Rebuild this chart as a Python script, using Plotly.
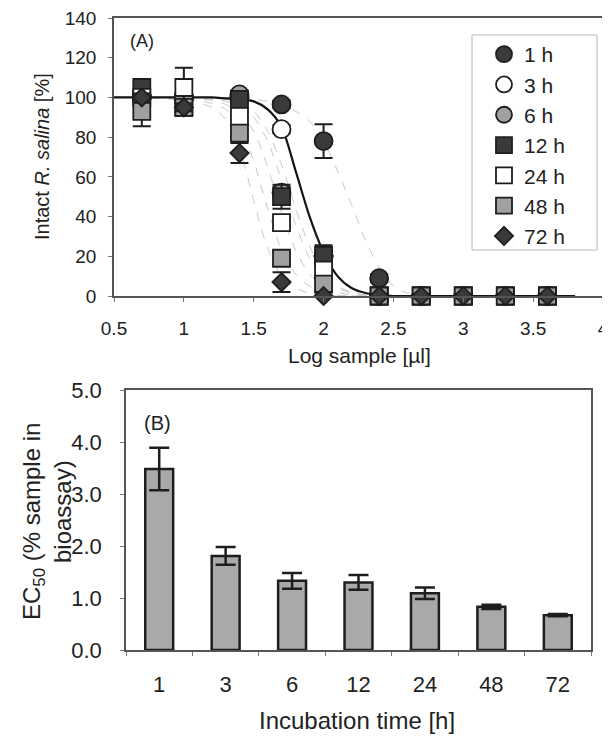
import plotly.graph_objects as go

# ---------------- Panel A data ----------------
log_sample = [0.699, 1.0, 1.398, 1.699, 2.0, 2.398, 2.699, 3.0, 3.301, 3.602]
series_names = ["1 h", "3 h", "6 h", "12 h", "24 h", "48 h", "72 h"]

y_1h = [100, 100, 100, 96.5, 78, 9, 0, 0, 0, 0]
y_3h = [100, 100, 100, 84, 20, 0, 0, 0, 0, 0]
y_6h = [100, 100, 101.5, 52, 20, 0, 0, 0, 0, 0]
y_12h = [105, 95, 99, 50, 20.5, 0, 0, 0, 0, 0]
y_24h = [100, 105, 90.5, 37, 13, 0, 0, 0, 0, 0]
y_48h = [93, 95, 82, 19, 6, 0, 0, 0, 0, 0]
y_72h = [100, 95, 72, 7, 0, 0, 0, 0, 0, 0]

e_1h = [2, 2, 2, 2, 8.5, 2, 1, 1, 1, 1]
e_3h = [2, 2, 2, 2, 2, 1, 1, 1, 1, 1]
e_6h = [2, 2, 2, 3, 3, 1, 1, 1, 1, 1]
e_12h = [3, 2, 2, 6, 5, 1, 1, 1, 1, 1]
e_24h = [3, 10, 2, 3, 3, 1, 1, 1, 1, 1]
e_48h = [7.5, 2, 2, 3, 3, 1, 1, 1, 1, 1]
e_72h = [2, 2, 5, 5, 2, 1, 1, 1, 1, 1]

# fitted curves
fit_x = [0.5, 1.0, 1.2, 1.3, 1.4, 1.5, 1.6, 1.7, 1.8, 1.9, 2.0, 2.1, 2.2, 2.3, 2.4, 2.5, 2.6, 2.8, 3.8]
fit_1h = [100, 100, 100, 100, 99.5, 99, 98, 96, 93, 88, 78, 63, 46, 28, 14, 5, 1.5, 0, 0]
fit_3h = [100, 100, 100, 99.5, 99, 98, 94, 85, 63, 40, 22, 10, 4, 1.5, 0.5, 0, 0, 0, 0]
fit_6h = [100, 100, 99.5, 99, 97, 93, 83, 66, 44, 25, 12, 5, 2, 0.5, 0, 0, 0, 0, 0]
fit_12h = [100, 100, 99, 98, 95.5, 90, 78, 58, 36, 19, 9, 4, 1.5, 0.5, 0, 0, 0, 0, 0]
fit_24h = [100, 99.5, 98.5, 96.5, 92, 83, 65, 42, 23, 11, 5, 2, 0.5, 0, 0, 0, 0, 0, 0]
fit_48h = [100, 99, 97, 94, 86, 68, 44, 23, 11, 5, 2, 0.5, 0, 0, 0, 0, 0, 0, 0]
fit_72h = [100, 98.5, 95, 89, 74, 48, 24, 10, 4, 1.5, 0.5, 0, 0, 0, 0, 0, 0, 0, 0]

# ---------------- Panel B data ----------------
time_labels = ["1", "3", "6", "12", "24", "48", "72"]
ec50 = [3.48, 1.81, 1.33, 1.30, 1.09, 0.83, 0.67]
ec50_err = [0.41, 0.17, 0.15, 0.14, 0.11, 0.04, 0.02]

FONT = "Liberation Sans, Arial, sans-serif"
OFF = 8  # default page body margin
W, H = 610 - OFF, 742 - OFF
DARK = "#3a3a3a"
GRAY = "#a0a0a0"
EDGE = "#1e1e1e"


def px_x(p):
    return (p - OFF) / W


def px_y(p):
    return 1 - (p - OFF) / H


fig = go.Figure()

# gray fitted curves
for fy in [fit_1h, fit_6h, fit_12h, fit_24h, fit_48h, fit_72h]:
    fig.add_trace(go.Scatter(
        x=fit_x, y=fy, mode="lines",
        line=dict(color="#c8c8c8", width=1, dash="dash", shape="spline", smoothing=0.8),
        showlegend=False, hoverinfo="skip", xaxis="x", yaxis="y", cliponaxis=False))
# black fitted curve
fig.add_trace(go.Scatter(
    x=fit_x, y=fit_3h, mode="lines", line=dict(color="#151515", width=2.2, shape="spline", smoothing=0.8),
    showlegend=False, hoverinfo="skip", xaxis="x", yaxis="y", cliponaxis=False))

styles = [
    ("circle", DARK, 18),
    ("circle", "white", 18),
    ("circle", GRAY, 18),
    ("square", DARK, 17),
    ("square", "white", 17),
    ("square", GRAY, 17),
    ("diamond", DARK, 14),
]
ys = [y_1h, y_3h, y_6h, y_12h, y_24h, y_48h, y_72h]
es = [e_1h, e_3h, e_6h, e_12h, e_24h, e_48h, e_72h]

for name, yv, ev, (sym, col, sz) in zip(series_names, ys, es, styles):
    fig.add_trace(go.Scatter(
        x=log_sample, y=yv, mode="markers", name=name, legendgroup=name,
        marker=dict(symbol=sym, color=col, size=sz, line=dict(color=EDGE, width=1.8)),
        error_y=dict(type="data", array=ev, color=EDGE, thickness=2, width=9),
        xaxis="x", yaxis="y", cliponaxis=False))

# bars
fig.add_trace(go.Bar(
    x=time_labels, y=ec50, width=0.42,
    marker=dict(color="#a9a9a9", line=dict(color=EDGE, width=2.5)),
    error_y=dict(type="data", array=ec50_err, color=EDGE, thickness=2.5, width=10),
    showlegend=False, xaxis="x2", yaxis="y2"))

axis_common = dict(showgrid=False, zeroline=False, showline=True, linecolor="#555", linewidth=1.5,
                   mirror=True, ticks="outside", tickcolor="#777", ticklen=4, automargin=False,
                   ticklabeloverflow="allow")

fig.update_layout(
    template="none",
    width=W, height=H,
    margin=dict(l=0, r=0, t=0, b=0, pad=0),
    paper_bgcolor="white", plot_bgcolor="white",
    font=dict(family=FONT, color="#222"),
    showlegend=True,
    xaxis=dict(domain=[px_x(114), px_x(603)], range=[0.5, 4], tickvals=[0.5, 1, 1.5, 2, 2.5, 3, 3.5, 4],
               ticktext=["0.5", "1", "1.5", "2", "2.5", "3", "3.5", "4"],
               tickfont=dict(size=19, family=FONT, color="#222"), ticklabelstandoff=10, anchor="y",
               **axis_common),
    yaxis=dict(domain=[px_y(296), px_y(18)], range=[0, 140], dtick=20,
               tickfont=dict(size=19, family=FONT, color="#222"), ticklabelstandoff=8, anchor="x",
               **axis_common),
    xaxis2=dict(domain=[px_x(126), px_x(591)], type="category", range=[-0.5, 6.5],
                tickson="boundaries", tickfont=dict(size=22, family=FONT, color="#222"),
                ticklabelstandoff=14, anchor="y2", **axis_common),
    yaxis2=dict(domain=[px_y(650), px_y(390)], range=[0, 5], dtick=1, tickformat=".1f",
                tickfont=dict(size=22, family=FONT, color="#222"), ticklabelstandoff=14, anchor="x2",
                **axis_common),
    legend=dict(x=px_x(484), y=px_y(34), xanchor="left", yanchor="top",
                bgcolor="rgba(0,0,0,0)", borderwidth=0, tracegroupgap=0,
                font=dict(size=21, family=FONT, color="#222"), itemsizing="trace"),
)

# legend frame
fig.add_shape(type="rect", xref="paper", yref="paper",
              x0=px_x(472), x1=px_x(597), y0=px_y(250), y1=px_y(35),
              line=dict(color="#b8b8b8", width=1), fillcolor="rgba(0,0,0,0)")

ann = [
    dict(text="(A)", x=px_x(142), y=px_y(41), font=dict(size=18)),
    dict(text="(B)", x=px_x(157), y=px_y(423), font=dict(size=20)),
    dict(text="Intact <i>R. salina</i> [%]", x=px_x(42), y=px_y(157), textangle=-90, font=dict(size=20)),
    dict(text="Log sample [µl]", x=px_x(359), y=px_y(355), font=dict(size=21)),
    dict(text="EC<sub>50</sub> (% sample in", x=px_x(33), y=px_y(522), textangle=-90, font=dict(size=24)),
    dict(text="bioassay)", x=px_x(62), y=px_y(512), textangle=-90, font=dict(size=24)),
    dict(text="Incubation time [h]", x=px_x(357), y=px_y(720), font=dict(size=24)),
]
for a in ann:
    f = dict(family=FONT, color="#222")
    f.update(a.pop("font"))
    fig.add_annotation(xref="paper", yref="paper", showarrow=False, xanchor="center", yanchor="middle",
                       font=f, **a)

fig.write_html("out.html")
